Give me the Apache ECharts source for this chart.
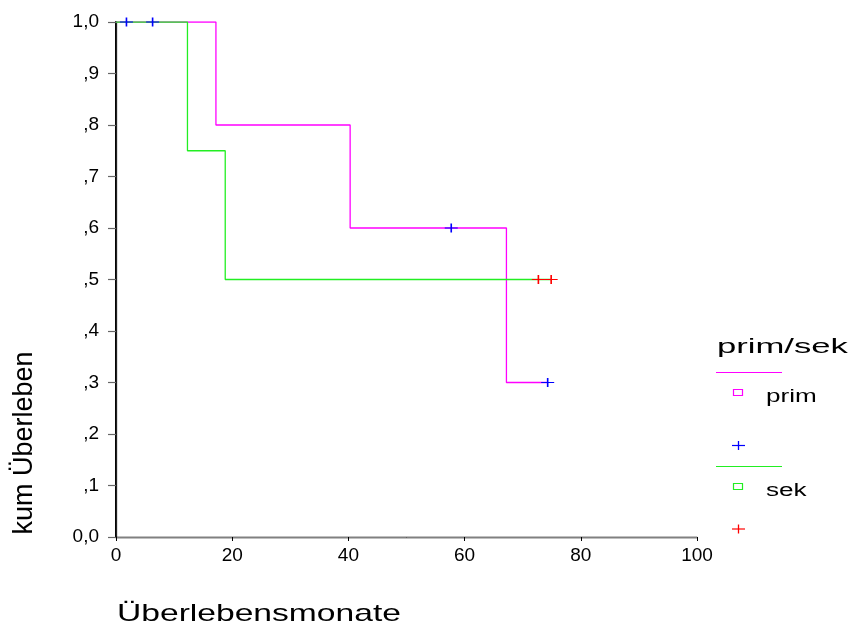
<!DOCTYPE html>
<html>
<head>
<meta charset="utf-8">
<title>kum Überleben</title>
<script src="https://cdn.jsdelivr.net/npm/echarts@6/dist/echarts.min.js"></script>
<style>
    html, body { margin: 0; padding: 0; background: #fff; }
    #main { width: 852px; height: 628px; }
</style>
</head>
<body>
<div id="main"></div>
<script>
// Kaplan-Meier Kurven
var primZeit = [0, 17.2, 40.3, 67.2, 74.3];
var primWert = [1, 0.8, 0.6, 0.3, 0.3];
var sekZeit = [0, 12.3, 18.8, 74.9];
var sekWert = [1, 0.75, 0.5, 0.5];
// zensierte Faelle
var primZensZeit = [1.8, 6.3, 57.7, 74.3];
var primZensWert = [1, 1, 0.6, 0.3];
var sekZensZeit = [72.7, 74.9];
var sekZensWert = [0.5, 0.5];
// Achsen
var yTickLabels = ['0,0', ',1', ',2', ',3', ',4', ',5', ',6', ',7', ',8', ',9', '1,0'];
var xMin = 0, xMax = 100, xStep = 20;

var font = '"Liberation Sans", Arial, sans-serif';
var plusPath = 'path://M0,5.25H12V6.75H0Z M5.25,0H6.75V12H5.25Z';

function paare(xs, ys) {
    var out = [];
    for (var i = 0; i < xs.length; i++) {
        out.push([xs[i], ys[i]]);
    }
    return out;
}

// kleines Kreuz fuer die Legende
function kreuz(cx, cy, color) {
    return {
        type: 'group',
        children: [
            { type: 'line', shape: { x1: cx - 6.5, y1: cy, x2: cx + 6.5, y2: cy }, style: { stroke: color, lineWidth: 1.2 } },
            { type: 'line', shape: { x1: cx, y1: cy - 4.5, x2: cx, y2: cy + 4.5 }, style: { stroke: color, lineWidth: 1.3 } }
        ]
    };
}

var myChart = echarts.init(document.getElementById('main'));

var option = {
    animation: false,
    backgroundColor: '#ffffff',
    grid: { left: 116, right: 155, top: 22, bottom: 91, containLabel: false },
    xAxis: [{
        type: 'value',
        min: xMin, max: xMax, interval: xStep,
        axisLine: { lineStyle: { color: '#000', width: 1.3 } },
        axisTick: { length: 4, lineStyle: { color: '#000', width: 1 } },
        axisLabel: { color: '#000', fontFamily: font, fontSize: 19, margin: 9 },
        splitLine: { show: false }
    }, {
        type: 'value',
        position: 'top',
        min: xMin, max: xMax,
        axisLine: { show: true, lineStyle: { color: '#808080', width: 1 } },
        axisTick: { show: false },
        axisLabel: { show: false },
        splitLine: { show: false }
    }],
    yAxis: [{
        type: 'value',
        min: 0, max: 1, interval: 0.1,
        axisLine: { show: true, lineStyle: { color: '#000', width: 2 } },
        axisTick: { show: true, length: 8, lineStyle: { color: '#666', width: 1.2 } },
        axisLabel: {
            color: '#000', fontFamily: font, fontSize: 19, margin: 17,
            formatter: function (value, index) { return yTickLabels[index]; }
        },
        splitLine: { show: false }
    }, {
        type: 'value',
        position: 'right',
        min: 0, max: 1,
        axisLine: { show: true, lineStyle: { color: '#222', width: 1.3 } },
        axisTick: { show: false },
        axisLabel: { show: false },
        splitLine: { show: false }
    }],
    series: [{
        name: 'prim',
        type: 'line',
        step: 'end',
        symbol: 'none',
        data: paare(primZeit, primWert),
        lineStyle: { color: '#ff00ff', width: 1.3 },
        z: 2
    }, {
        name: 'sek',
        type: 'line',
        step: 'end',
        symbol: 'none',
        data: paare(sekZeit, sekWert),
        lineStyle: { color: '#22ee22', width: 1.3 },
        z: 3
    }, {
        name: 'prim zensiert',
        type: 'scatter',
        symbol: plusPath,
        symbolSize: [13, 9],
        data: paare(primZensZeit, primZensWert),
        itemStyle: { color: '#0000ff', opacity: 1 },
        z: 5
    }, {
        name: 'sek zensiert',
        type: 'scatter',
        symbol: plusPath,
        symbolSize: [13, 9],
        data: paare(sekZensZeit, sekZensWert),
        itemStyle: { color: '#ff0000', opacity: 1 },
        z: 5
    }],
    graphic: [
        // Achsentitel
        {
            type: 'text', x: 117, y: 614, scaleX: 1.4,
            style: { text: 'Überlebensmonate', font: '24px ' + font, fill: '#000', textAlign: 'left', textVerticalAlign: 'middle' }
        },
        {
            type: 'text', x: 25, y: 443, rotation: Math.PI / 2,
            style: { text: 'kum Überleben', font: '27px ' + font, fill: '#000', textAlign: 'center', textVerticalAlign: 'middle' }
        },
        // Legende
        {
            type: 'text', x: 717, y: 347, scaleX: 1.65,
            style: { text: 'prim/sek', font: '21px ' + font, fill: '#000', textAlign: 'left', textVerticalAlign: 'middle' }
        },
        { type: 'line', shape: { x1: 716, y1: 372.5, x2: 782, y2: 372.5 }, style: { stroke: '#ff00ff', lineWidth: 1 } },
        { type: 'rect', shape: { x: 733.5, y: 389.5, width: 9, height: 6 }, style: { fill: '#fff', stroke: '#ff00ff', lineWidth: 1.2 } },
        {
            type: 'text', x: 766, y: 397, scaleX: 1.45,
            style: { text: 'prim', font: '18px ' + font, fill: '#000', textAlign: 'left', textVerticalAlign: 'middle' }
        },
        kreuz(738.5, 445.5, '#0000ff'),
        { type: 'line', shape: { x1: 716, y1: 466.5, x2: 782, y2: 466.5 }, style: { stroke: '#22ee22', lineWidth: 1 } },
        { type: 'rect', shape: { x: 733.5, y: 483.5, width: 9, height: 6 }, style: { fill: '#fff', stroke: '#22ee22', lineWidth: 1.2 } },
        {
            type: 'text', x: 766, y: 491, scaleX: 1.45,
            style: { text: 'sek', font: '18px ' + font, fill: '#000', textAlign: 'left', textVerticalAlign: 'middle' }
        },
        kreuz(738.5, 529, '#ff0000')
    ]
};

myChart.setOption(option);
</script>
</body>
</html>
